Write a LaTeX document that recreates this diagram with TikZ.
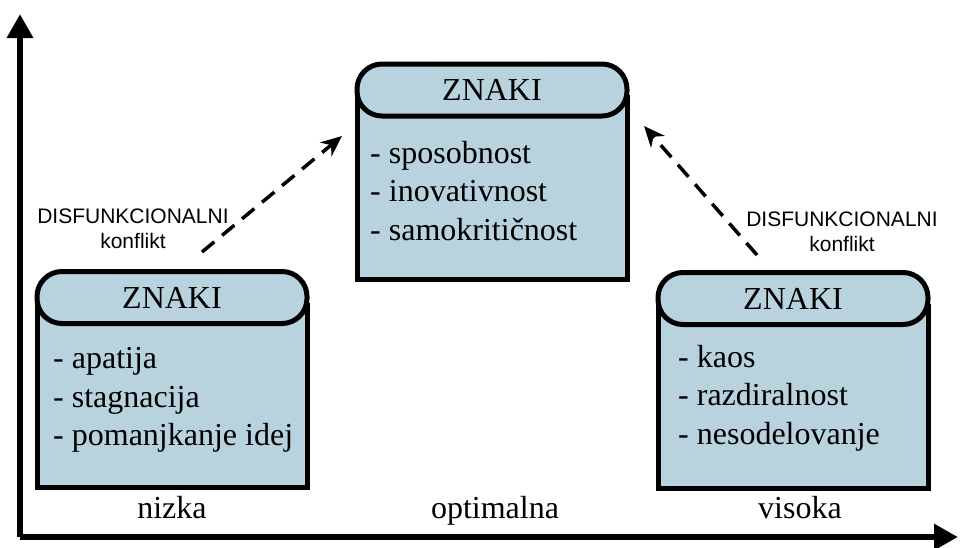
\documentclass[tikz,border=0pt]{standalone}
\usepackage{fontspec}
\setmainfont{Liberation Serif}
\newfontfamily\labelfont{Liberation Sans}
\usetikzlibrary{arrows.meta}
\definecolor{boxfill}{RGB}{184,211,221}

\begin{document}
\begin{tikzpicture}[x=1pt, y=-1pt,
    body/.style={draw, line width=5pt, fill=boxfill, minimum width=270pt, minimum height=182pt, inner sep=0pt},
    head/.style={draw, line width=5pt, fill=boxfill, rounded corners=25pt, minimum width=270pt, minimum height=52pt, inner sep=0pt, font=\fontsize{32}{32}\selectfont},
    items/.style={align=left, inner sep=0pt, anchor=west, font=\fontsize{32}{38.5}\selectfont},
    level/.style={inner sep=0pt, anchor=base, font=\fontsize{32}{32}\selectfont},
    note/.style={align=center, inner sep=0pt, font=\labelfont\fontsize{21}{25}\selectfont}]
    \useasboundingbox (0,0) rectangle (961,547);

    % axes
    \coordinate (o) at (20, 537);
    \coordinate (ytip) at (20, 14);
    \coordinate (xtip) at (958, 537);
    \draw [line width=6pt, -{Triangle[length=24pt, width=25pt]}] (o) -- (ytip);
    \draw [line width=6pt, -{Triangle[length=24pt, width=25pt]}] (o) -- (xtip);

    % low conflict
    \node[body] (lowbody) at (172, 396) {};
    \node[head] (lowhead) at (172, 297.5) {ZNAKI};
    \node[items] (lowitems) at (53, 400) {- apatija\\- stagnacija\\- pomanjkanje idej};

    % optimal conflict
    \node[body] (optbody) at (492, 188) {};
    \node[head] (opthead) at (492, 90) {ZNAKI};
    \node[items] (optitems) at (370, 191) {- sposobnost\\- inovativnost\\- samokritičnost};

    % high conflict
    \node[body] (highbody) at (793, 397) {};
    \node[head] (highhead) at (793, 298.5) {ZNAKI};
    \node[items] (highitems) at (678, 398) {- kaos\\- razdiralnost\\- nesodelovanje};

    \node[level] (nizka) at (172, 518) {nizka};
    \node[level] (optimalna) at (495, 518) {optimalna};
    \node[level] (visoka) at (800, 518) {visoka};

    % dysfunctional conflict
    \coordinate (lowstart) at (202, 252);
    \coordinate (lowend) at (342, 136);
    \coordinate (highstart) at (757, 255);
    \coordinate (highend) at (644, 126);
    \draw [line width=3.5pt, dash pattern=on 16pt off 10pt, -{Stealth[length=21pt, width=18pt]}] (lowstart) -- (lowend);
    \draw [line width=3.5pt, dash pattern=on 16pt off 10pt, -{Stealth[length=21pt, width=18pt]}] (highstart) -- (highend);
    \node[note] (lownote) at (133, 229) {DISFUNKCIONALNI\\konflikt};
    \node[note] (highnote) at (842, 232) {DISFUNKCIONALNI\\konflikt};
\end{tikzpicture}
\end{document}
